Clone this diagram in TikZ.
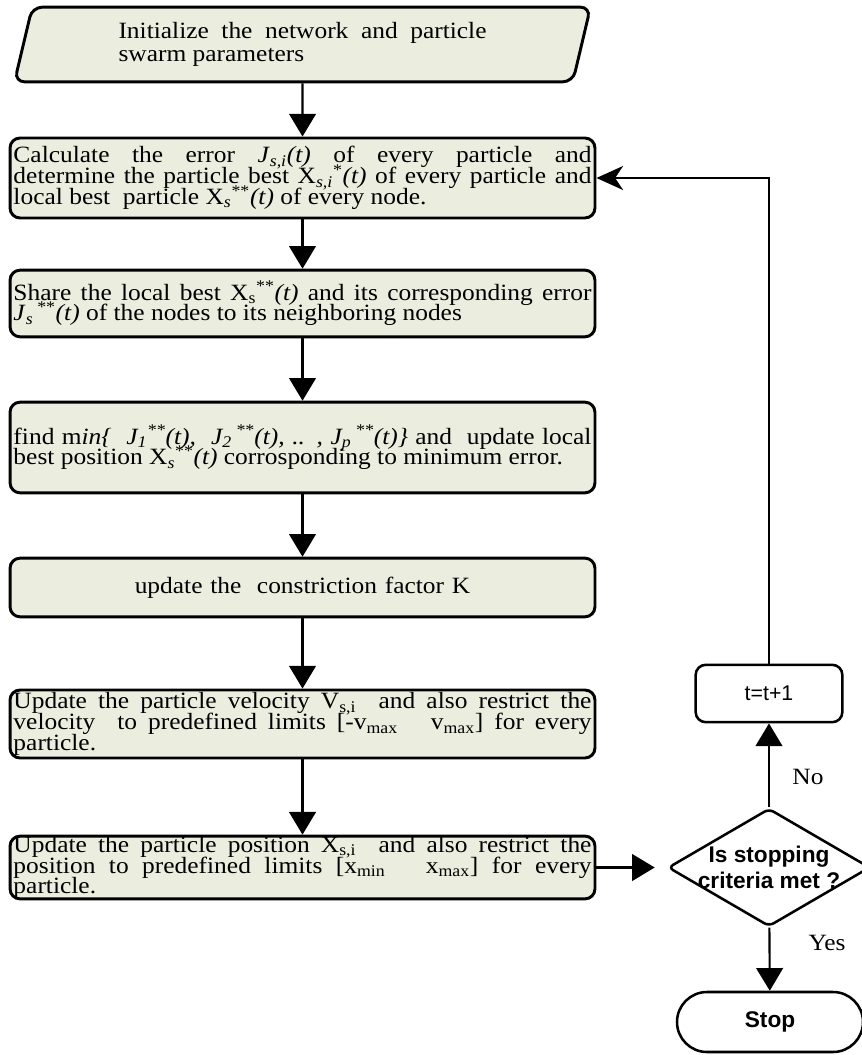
\documentclass[tikz,border=0pt]{standalone}
\usepackage{fontspec}
\setmainfont[FakeStretch=1.09]{Liberation Serif}
\newfontfamily\arialfont{Liberation Sans}
\usetikzlibrary{shapes.geometric,arrows.meta}

\definecolor{boxfill}{RGB}{235,238,222}
\newcommand{\boxfont}{\fontsize{17.5}{15.6}\selectfont\lineskiplimit=-20pt}
\newcommand{\sansfont}{\arialfont\fontsize{16}{20}\selectfont}

\tikzset{every picture/.style={line width=0.75pt}}
\tikzset{
  process/.style={draw, line width=2.2pt, rounded corners=7.5pt, fill=boxfill, text width=433.5pt, inner xsep=2.6pt, inner ysep=0pt, align=justify, font=\boxfont},
  inputbox/.style={trapezium, trapezium left angle=68, trapezium right angle=112, trapezium stretches body, draw, line width=2.2pt, rounded corners=7.5pt, fill=boxfill, minimum width=432pt, minimum height=56pt, text width=276pt, inner sep=0pt, align=justify, font=\fontsize{17.5}{17}\selectfont},
  counter/.style={draw, line width=1.9pt, rounded corners=7.5pt, fill=white, minimum width=110pt, minimum height=43pt, font=\sansfont},
  decision/.style={diamond, draw, line width=1.9pt, rounded corners=4pt, fill=white, minimum width=151.5pt, minimum height=88.5pt, inner sep=0pt},
  terminal/.style={draw, line width=1.9pt, rounded corners=22.5pt, fill=white, minimum width=139.5pt, minimum height=45pt, font=\arialfont\bfseries\fontsize{17}{20}\selectfont},
  flow/.style={line width=1.6pt, -{Triangle[length=17pt,width=20pt]}},
  backflow/.style={line width=1.6pt, -{Stealth[length=20pt,width=18pt,inset=6pt]}},
  answer/.style={font=\boxfont, inner sep=0pt}
}

\begin{document}
\begin{tikzpicture}[x=0.75pt,y=0.75pt,yscale=-1,xscale=1]
\useasboundingbox (0,0) rectangle (861,1055);

% Flowchart: Data
\node[inputbox] (init) at (302.5,44.5) {Initialize the network and particle\linebreak swarm parameters};
% Flowchart: Process
\node[process, minimum height=60pt] (calc) at (302.5,178) {Calculate the error \textit{J}\textsubscript{\textit{s,i}}\textit{(t)} of every particle and\linebreak determine the particle best X\textsubscript{\textit{s,i}}\textsuperscript{*}\textit{(t)} of every particle and\linebreak local best ~particle X\textsubscript{\textit{s}}\textsuperscript{**}\textit{(t)} of every node.};
% Flowchart: Process
\node[process, minimum height=50pt] (share) at (302.5,303.5) {Share the local best X\textsubscript{s}\textsuperscript{**}\textit{(t)} and its corresponding error\linebreak \textit{J}\textsubscript{\textit{s}}\,\textsuperscript{**}\textit{(t)} of the nodes to its neighboring nodes};
% Flowchart: Process
\node[process, minimum height=68pt] (findmin) at (302.5,447.5) {find m\textit{in\{ ~J\textsubscript{1}\textsuperscript{**}(t), ~J\textsubscript{2}\,\textsuperscript{**}(t), .. , J\textsubscript{p}\,\textsuperscript{**}(t)\}} and ~update local\linebreak best position X\textsubscript{\textit{s}}\textsuperscript{**}\textit{(t)} corrosponding to minimum error.};
% Flowchart: Process
\node[process, minimum height=44pt, align=center] (factor) at (302.5,587.5) {update the ~constriction factor K};
% Flowchart: Process
\node[process, minimum height=51pt] (velocity) at (302.5,724) {Update the particle velocity V\textsubscript{s,i} ~and also restrict the\linebreak velocity ~to predefined limits [-v\textsubscript{max} ~~v\textsubscript{max}] for every\linebreak particle.};
% Flowchart: Process
\node[process, minimum height=47pt] (position) at (302.5,867.5) {Update the particle position X\textsubscript{s,i} ~and also restrict the\linebreak position to predefined limits [x\textsubscript{min} ~~x\textsubscript{max}] for every\linebreak particle.};

% Flowchart: Decision
\node[decision] (dec) at (769,867.5) {};
\node[font=\arialfont\bfseries\fontsize{17}{20}\selectfont, align=center, inner sep=0pt] (declbl) at (dec.center) {Is stopping\\criteria met ?};
% Flowchart: Process
\node[counter] (tstep) at (769,693.5) {t=t+1};
% Flowchart: Terminator
\node[terminal] (stop) at (770,1022) {Stop};

%Straight Lines
\draw[flow] (init.south) -- (calc);
\draw[flow] (calc) -- (share);
\draw[flow] (share) -- (findmin);
\draw[flow] (findmin) -- (factor);
\draw[flow] (factor) -- (velocity);
\draw[flow] (velocity) -- (position);
\draw[flow, shorten >=9pt] (position.east) -- (dec.west);
\draw[flow] (dec) -- (tstep);
\draw[flow] (dec) -- (stop);
\draw[backflow] (tstep.north) |- (calc.east);

% Text Node
\node[answer] (nolbl) at (808,777) {No};
% Text Node
\node[answer] (yeslbl) at (827,943) {Yes};

\end{tikzpicture}
\end{document}
